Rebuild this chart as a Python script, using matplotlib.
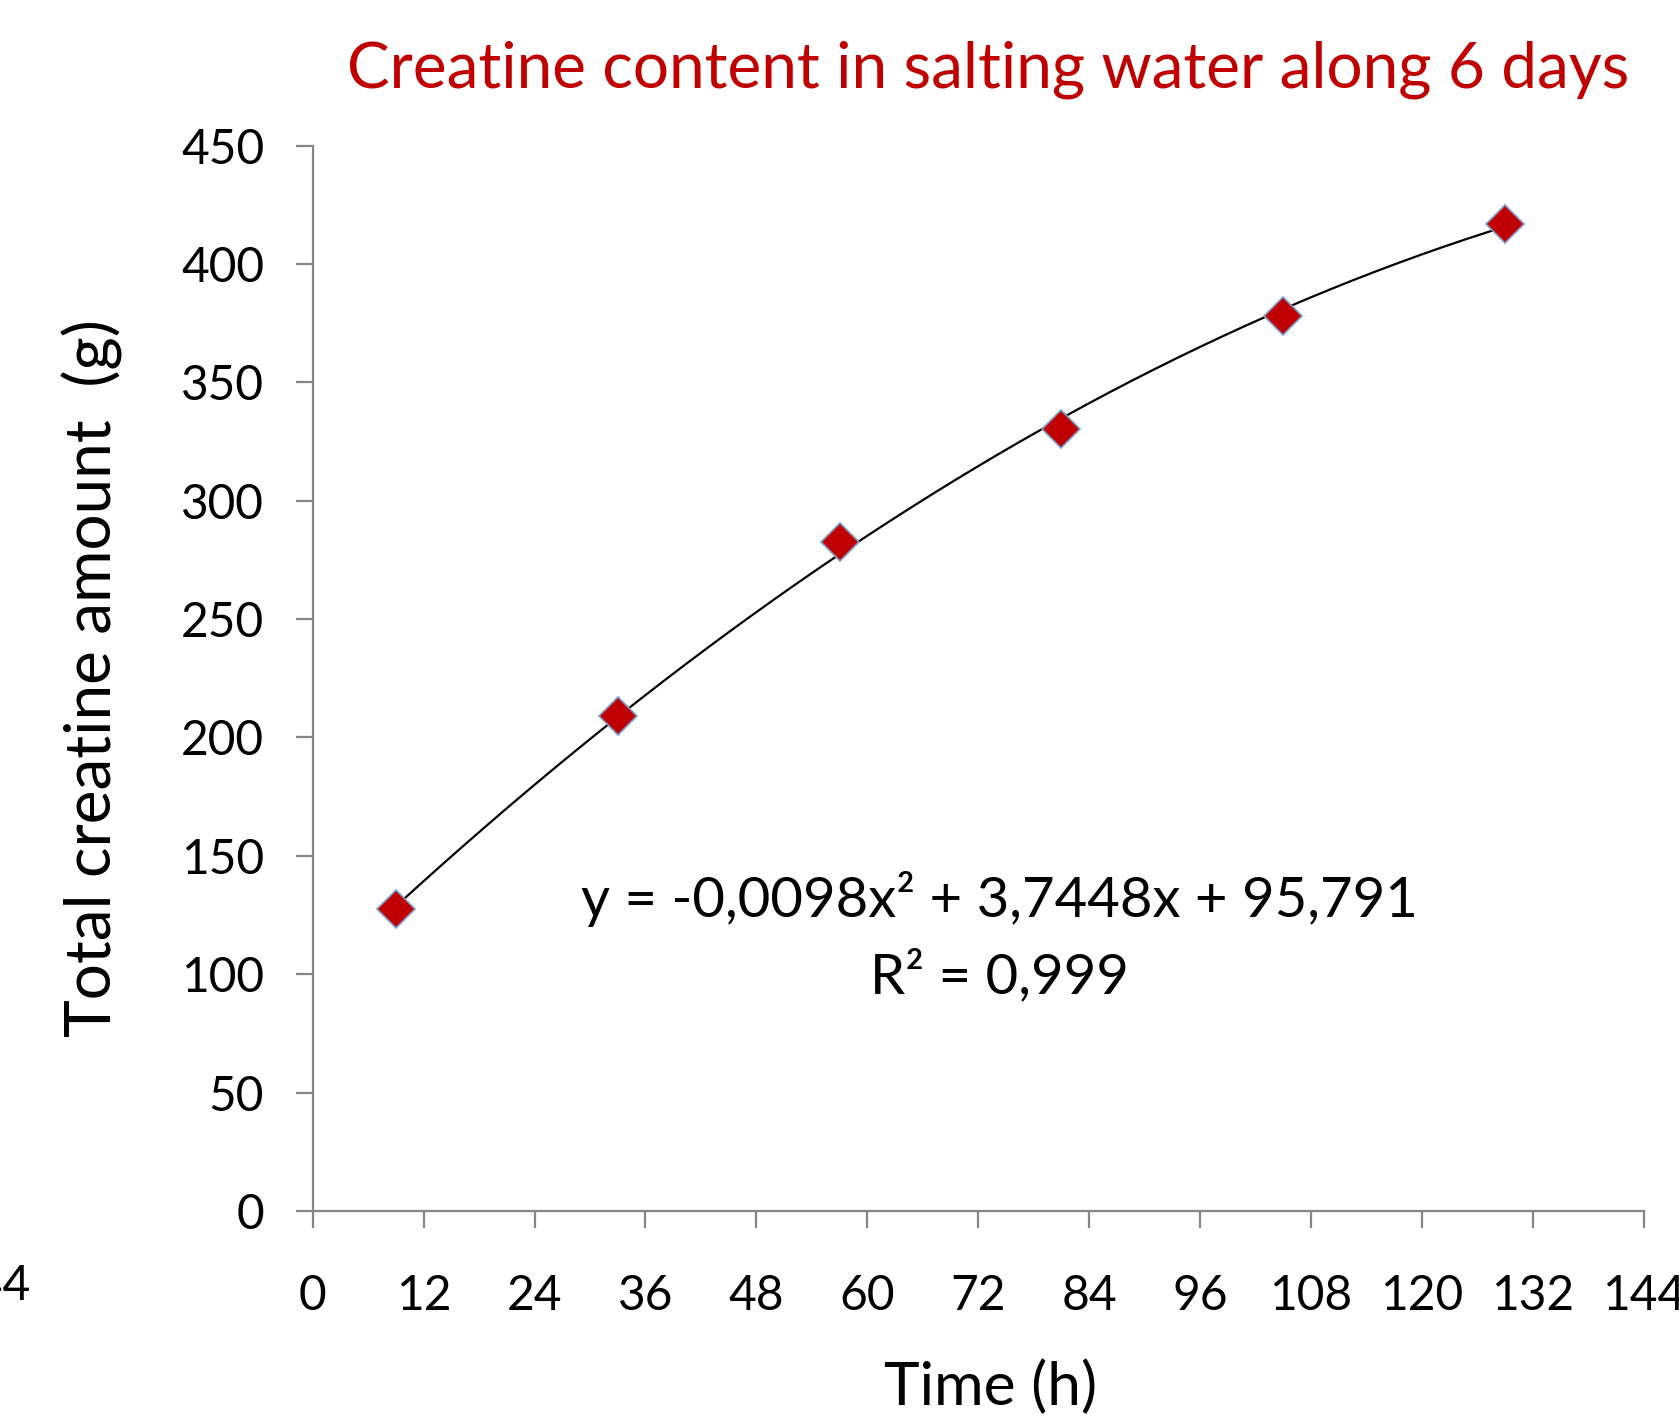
import numpy as np
import matplotlib
matplotlib.use("Agg")
import matplotlib.pyplot as plt

plt.rcParams['font.family'] = ['Lato', 'DejaVu Sans']

# data
time_h = [9, 33, 57, 81, 105, 129]
creatine_g = [127.5, 209, 282.5, 330.5, 378, 417]
# trendline coefficients as printed on the chart (x^2, x, 1)
fit_coef = [-0.0098, 3.7448, 95.791]
x_ticks = [0, 12, 24, 36, 48, 60, 72, 84, 96, 108, 120, 132, 144]
y_ticks = [0, 50, 100, 150, 200, 250, 300, 350, 400, 450]

W, H = 1679, 1417
fig = plt.figure(figsize=(W / 100, H / 100), dpi=100)
ax = fig.add_axes([312.7 / W, 1 - 1211 / H, (1643.7 - 312.7) / W, (1211 - 145.6) / H])

spine_col = '#868686'
red = '#C00000'

# trendline
xs = np.linspace(time_h[0], time_h[-1], 200)
ax.plot(xs, np.polyval(fit_coef, xs), color='black', lw=1.6, zorder=2)

# measured points
ax.plot(time_h, creatine_g, ls='none', marker='D', ms=19,
        mfc=red, mec='#7BA0CD', mew=1.2, zorder=3)

ax.set_xlim(0, 144)
ax.set_ylim(0, 450)
ax.set_xticks(x_ticks)
ax.set_yticks(y_ticks)

for s in ['top', 'right']:
    ax.spines[s].set_visible(False)
for s in ['left', 'bottom']:
    ax.spines[s].set_color(spine_col)
    ax.spines[s].set_linewidth(1.6)

ax.tick_params(axis='x', direction='out', length=12, width=1.6, color=spine_col,
               pad=33, labelsize=34.5)
ax.tick_params(axis='y', direction='out', length=12, width=1.6, color=spine_col,
               pad=23, labelsize=34.5)

ax.set_ylabel('Total creatine amount  (g)', fontsize=46, labelpad=42)
ax.set_xlabel('Time (h)', fontsize=43.5, labelpad=30, x=0.5096)

fig.text(988 / W, 1 - 70 / H, 'Creatine content in salting water along 6 days',
         color=red, fontsize=46, ha='center', va='center')

ax.text(999 / W, 1 - 899 / H, 'y = -0,0098x² + 3,7448x + 95,791',
        transform=fig.transFigure, fontsize=40.5, ha='center', va='center')
ax.text(999 / W, 1 - 977 / H, 'R² = 0,999',
        transform=fig.transFigure, fontsize=40.5, ha='center', va='center')

# clipped label fragment at the left edge
fig.text(30 / W, 1 - 1286 / H, '144', fontsize=34.5, ha='right', va='center')

fig.savefig('out.png', dpi=100, facecolor='white')
